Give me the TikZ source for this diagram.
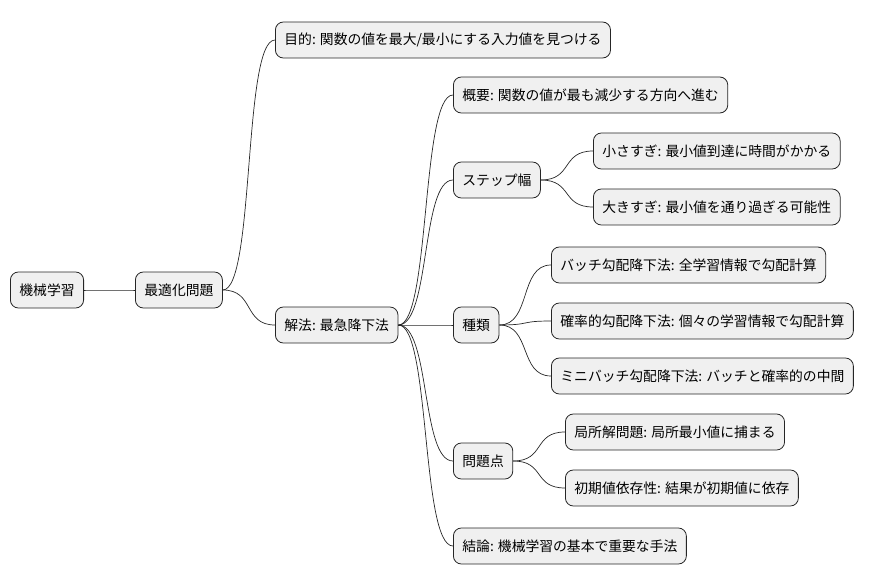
\documentclass[tikz,border=0pt]{standalone}
\usepackage{fontspec}
\setmainfont{Noto Sans CJK JP}
\begin{document}
\begin{tikzpicture}[x=1pt,y=-1pt,
 box/.style={draw=black!85,fill=black!6,rounded corners=8pt,line width=0.8pt,minimum height=36pt,inner xsep=9pt,anchor=west,font=\fontsize{13.8}{15}\selectfont},
 ln/.style={line width=0.7pt,black!85}]
\useasboundingbox (0,0) rectangle (871,583);
\node[box] (r) at (10,290) {機械学習};
\node[box] (o) at (135,290) {最適化問題};
\node[box] (p) at (275,40) {目的: 関数の値を最大/最小にする入力値を見つける};
\node[box] (m) at (275,325) {解法: 最急降下法};
\node[box] (g) at (453,95) {概要: 関数の値が最も減少する方向へ進む};
\node[box] (s) at (453,180) {ステップ幅};
\node[box] (s1) at (593,151) {小さすぎ: 最小値到達に時間がかかる};
\node[box] (s2) at (593,207) {大きすぎ: 最小値を通り過ぎる可能性};
\node[box] (k) at (453,325) {種類};
\node[box] (k1) at (551,265) {バッチ勾配降下法: 全学習情報で勾配計算};
\node[box] (k2) at (551,321) {確率的勾配降下法: 個々の学習情報で勾配計算};
\node[box] (k3) at (551,376) {ミニバッチ勾配降下法: バッチと確率的の中間};
\node[box] (q) at (453,461) {問題点};
\node[box] (q1) at (565,432) {局所解問題: 局所最小値に捕まる};
\node[box] (q2) at (565,488) {初期値依存性: 結果が初期値に依存};
\node[box] (c) at (453,546) {結論: 機械学習の基本で重要な手法};
\foreach \a/\b in {r/o,o/p,o/m,m/g,m/s,m/k,m/q,m/c,s/s1,s/s2,k/k1,k/k2,k/k3,q/q1,q/q2}
  \draw[ln] (\a.east) .. controls ([xshift=32pt]\a.east) and ([xshift=-32pt]\b.west) .. (\b.west);
\end{tikzpicture}
\end{document}
